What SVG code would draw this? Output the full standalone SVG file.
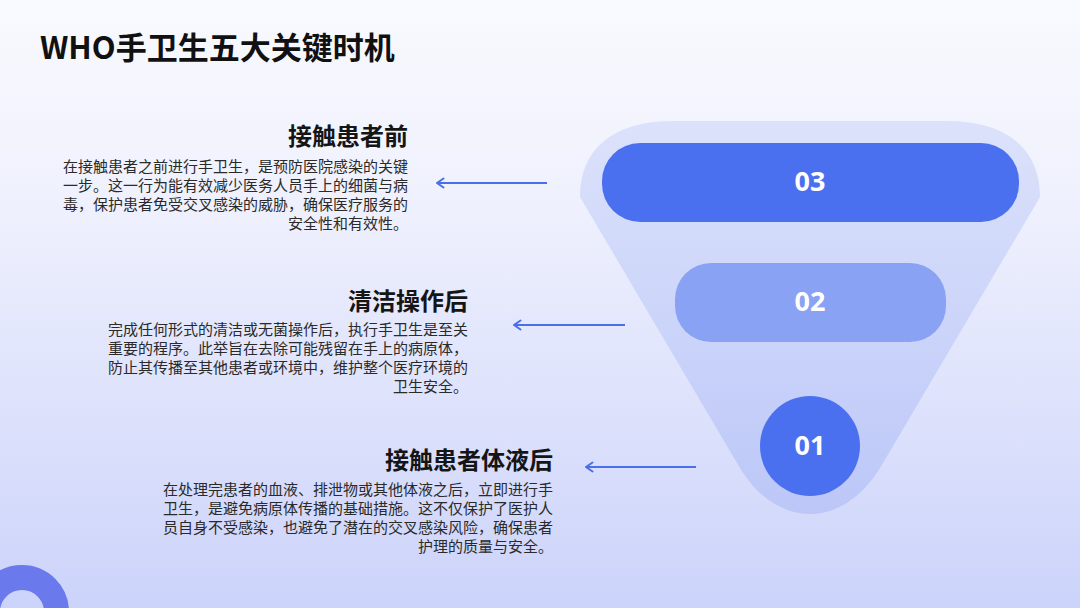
<svg xmlns="http://www.w3.org/2000/svg" width="1080" height="608" viewBox="0 0 1080 608">
  <defs>
    <linearGradient id="bg" x1="0" y1="0" x2="0" y2="1">
      <stop offset="0" stop-color="#f9fafe"/>
      <stop offset="0.35" stop-color="#eef0fd"/>
      <stop offset="1" stop-color="#ccd3fa"/>
    </linearGradient>
    <linearGradient id="funnel" x1="0" y1="0" x2="0" y2="1">
      <stop offset="0" stop-color="#dce2fb"/>
      <stop offset="1" stop-color="#bcc7f8"/>
    </linearGradient>
    <marker id="arr" viewBox="0 0 12 12" refX="1.5" refY="6" markerWidth="12" markerHeight="12" markerUnits="userSpaceOnUse" orient="auto">
      <path d="M8,1.5 L1.5,6 L8,10.5" fill="none" stroke="#4b6fe8" stroke-width="2" stroke-linecap="round" stroke-linejoin="round"/>
    </marker>
    <style>
      .title{font-family:"Noto Sans CJK SC","Noto Sans",sans-serif;font-weight:700;font-size:31px;fill:#111}
      .head{font-family:"Noto Sans CJK SC",sans-serif;font-weight:700;font-size:24px;fill:#151515;text-anchor:end}
      .body{font-family:"Noto Sans CJK SC",sans-serif;font-size:15px;fill:#2a2a2a;text-anchor:end}
      .num{font-family:"Noto Sans","Open Sans",sans-serif;font-weight:700;font-size:27px;fill:#ffffff;text-anchor:middle}
      .conn{stroke:#4b6fe8;stroke-width:2;fill:none;marker-start:url(#arr)}
    </style>
  </defs>
  <rect x="0" y="0" width="1080" height="608" fill="url(#bg)"/>
  <circle cx="22" cy="612" r="34.5" fill="none" stroke="#6a79ec" stroke-width="25"/>
  <text class="title" x="40" y="59">WHO手卫生五大关键时机</text>

  <g id="funnel-shape">
    <path d="M580,197 C580,150 612,121 672,121 L948,121 C1008,121 1040,150 1040,197 L883,463 C845,531 775,531 737,463 Z" fill="url(#funnel)"/>
  </g>

  <g id="node-03">
    <rect x="602" y="143" width="417" height="79" rx="38" fill="#4b70ef"/>
    <text class="num" x="810" y="191">03</text>
  </g>
  <g id="node-02">
    <rect x="675" y="263" width="271" height="79" rx="36" fill="#8aa2f4"/>
    <text class="num" x="810" y="311">02</text>
  </g>
  <g id="node-01">
    <circle cx="810" cy="446" r="50" fill="#4b70ef"/>
    <text class="num" x="810" y="455">01</text>
  </g>

  <g id="text-03">
    <text class="head" x="408" y="145">接触患者前</text>
    <text class="body" x="408" y="172">在接触患者之前进行手卫生，是预防医院感染的关键</text>
    <text class="body" x="408" y="191">一步。这一行为能有效减少医务人员手上的细菌与病</text>
    <text class="body" x="408" y="210">毒，保护患者免受交叉感染的威胁，确保医疗服务的</text>
    <text class="body" x="408" y="229">安全性和有效性。</text>
  </g>
  <g id="text-02">
    <text class="head" x="468" y="310">清洁操作后</text>
    <text class="body" x="468" y="335">完成任何形式的清洁或无菌操作后，执行手卫生是至关</text>
    <text class="body" x="468" y="354">重要的程序。此举旨在去除可能残留在手上的病原体，</text>
    <text class="body" x="468" y="373">防止其传播至其他患者或环境中，维护整个医疗环境的</text>
    <text class="body" x="468" y="392">卫生安全。</text>
  </g>
  <g id="text-01">
    <text class="head" x="553" y="469">接触患者体液后</text>
    <text class="body" x="553" y="495">在处理完患者的血液、排泄物或其他体液之后，立即进行手</text>
    <text class="body" x="553" y="514">卫生，是避免病原体传播的基础措施。这不仅保护了医护人</text>
    <text class="body" x="553" y="533">员自身不受感染，也避免了潜在的交叉感染风险，确保患者</text>
    <text class="body" x="553" y="552">护理的质量与安全。</text>
  </g>

  <g id="connectors">
    <line class="conn" x1="437" y1="183" x2="547" y2="183"/>
    <line class="conn" x1="514" y1="325" x2="625" y2="325"/>
    <line class="conn" x1="586" y1="467" x2="696" y2="467"/>
  </g>
</svg>
